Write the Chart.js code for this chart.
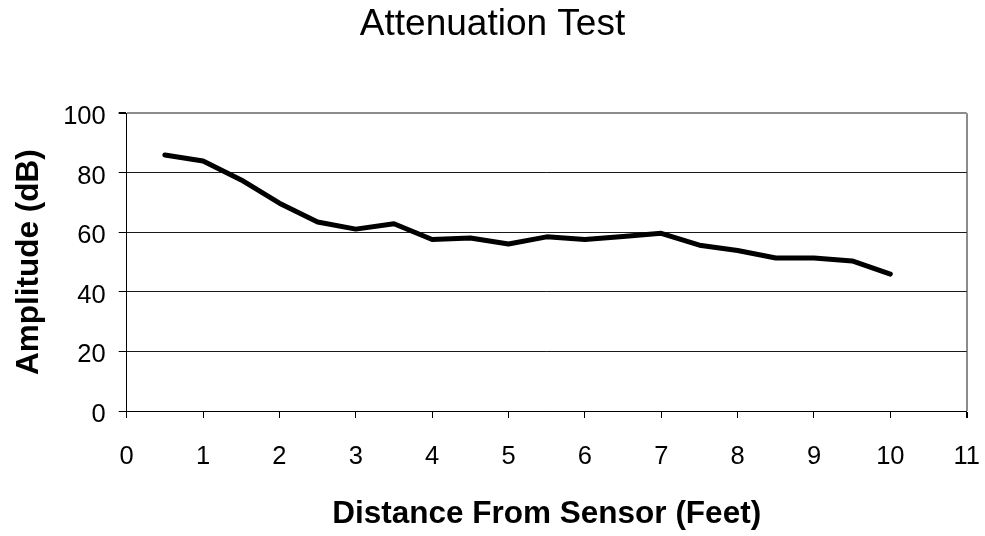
<html>
<head>
    <title>Attenuation Test</title>
    <script src="https://cdn.jsdelivr.net/npm/chart.js"></script>
    <style>
        body { margin: 0; background: #fff; }
    </style>
</head>
<body>
<canvas id="chart" width="985" height="536"></canvas>

<script>
    // values
    const distances = [0.5, 1, 1.5, 2, 2.5, 3, 3.5, 4, 4.5, 5, 5.5, 6, 6.5, 7, 7.5, 8, 8.5, 9, 9.5, 10];
    const amplitudes = [86, 84, 77.6, 69.8, 63.5, 61.1, 62.9, 57.6, 58.1, 56.1, 58.5, 57.6, 58.6, 59.7, 55.7, 53.9, 51.4, 51.4, 50.4, 46];
    const xTicks = [0, 1, 2, 3, 4, 5, 6, 7, 8, 9, 10, 11];
    const yTicks = [0, 20, 40, 60, 80, 100];

    const font = "'Liberation Sans', Arial, sans-serif";
    const frameGray = '#8c8c8c';

    const ctx = document.getElementById('chart').getContext('2d');

    new Chart(ctx, {
        type: 'line',
        data: {
            datasets: [{
                label: 'Amplitude',
                data: distances.map((d, i) => ({x: d, y: amplitudes[i]})),
                borderColor: '#000',
                borderWidth: 5,
                borderCapStyle: 'round',
                borderJoinStyle: 'round',
                pointRadius: 0,
                tension: 0
            }]
        },
        options: {
            responsive: false,
            animation: false,
            layout: {padding: 0},
            plugins: {
                legend: {display: false},
                tooltip: {enabled: false},
                title: {
                    display: true,
                    text: 'Attenuation Test',
                    color: '#000',
                    font: {family: font, size: 37, weight: 'normal'},
                    padding: {top: 2.2, bottom: 66.7}
                }
            },
            scales: {
                x: {
                    type: 'linear',
                    min: xTicks[0],
                    max: xTicks[xTicks.length - 1],
                    afterBuildTicks: (scale) => {
                        scale.ticks = xTicks.map(v => ({value: v}));
                    },
                    afterFit: (scale) => {
                        scale.height = 125;
                        // right margin of the plot, so the title stays centred on the page
                        scale.paddingLeft = 0;
                        scale.paddingRight = 18.3;
                    },
                    ticks: {
                        color: '#000',
                        font: {family: font, size: 25.5},
                        padding: 24,
                        maxRotation: 0,
                        autoSkip: false
                    },
                    grid: {
                        drawOnChartArea: true,
                        color: (c) => c.tick && c.tick.value === 11 ? frameGray : 'rgba(0,0,0,0)',
                        lineWidth: (c) => c.tick && c.tick.value === 11 ? 2 : 1,
                        tickColor: '#000',
                        tickLength: 7
                    },
                    border: {color: '#000', width: 1},
                    title: {
                        display: true,
                        text: 'Distance From Sensor (Feet)',
                        color: '#000',
                        font: {family: font, size: 31.5, weight: 'bold'},
                        padding: {top: 0, bottom: 3}
                    }
                },
                y: {
                    min: yTicks[0],
                    max: yTicks[yTicks.length - 1],
                    afterBuildTicks: (scale) => {
                        scale.ticks = yTicks.map(v => ({value: v}));
                    },
                    afterFit: (scale) => {
                        scale.width = 126.7;
                    },
                    ticks: {
                        color: '#000',
                        font: {family: font, size: 25.5},
                        padding: 13,
                        labelOffset: 4
                    },
                    grid: {
                        color: (c) => c.tick && c.tick.value === 100 ? frameGray : '#1a1a1a',
                        lineWidth: (c) => c.tick && c.tick.value === 100 ? 2 : 1,
                        tickColor: '#000',
                        tickLength: 8
                    },
                    border: {color: '#000', width: 1},
                    title: {
                        display: true,
                        text: 'Amplitude (dB)',
                        color: '#000',
                        font: {family: font, size: 31.5, weight: 'bold'},
                        padding: {top: 10, bottom: 0}
                    }
                }
            }
        }
    });
</script>
</body>
</html>
